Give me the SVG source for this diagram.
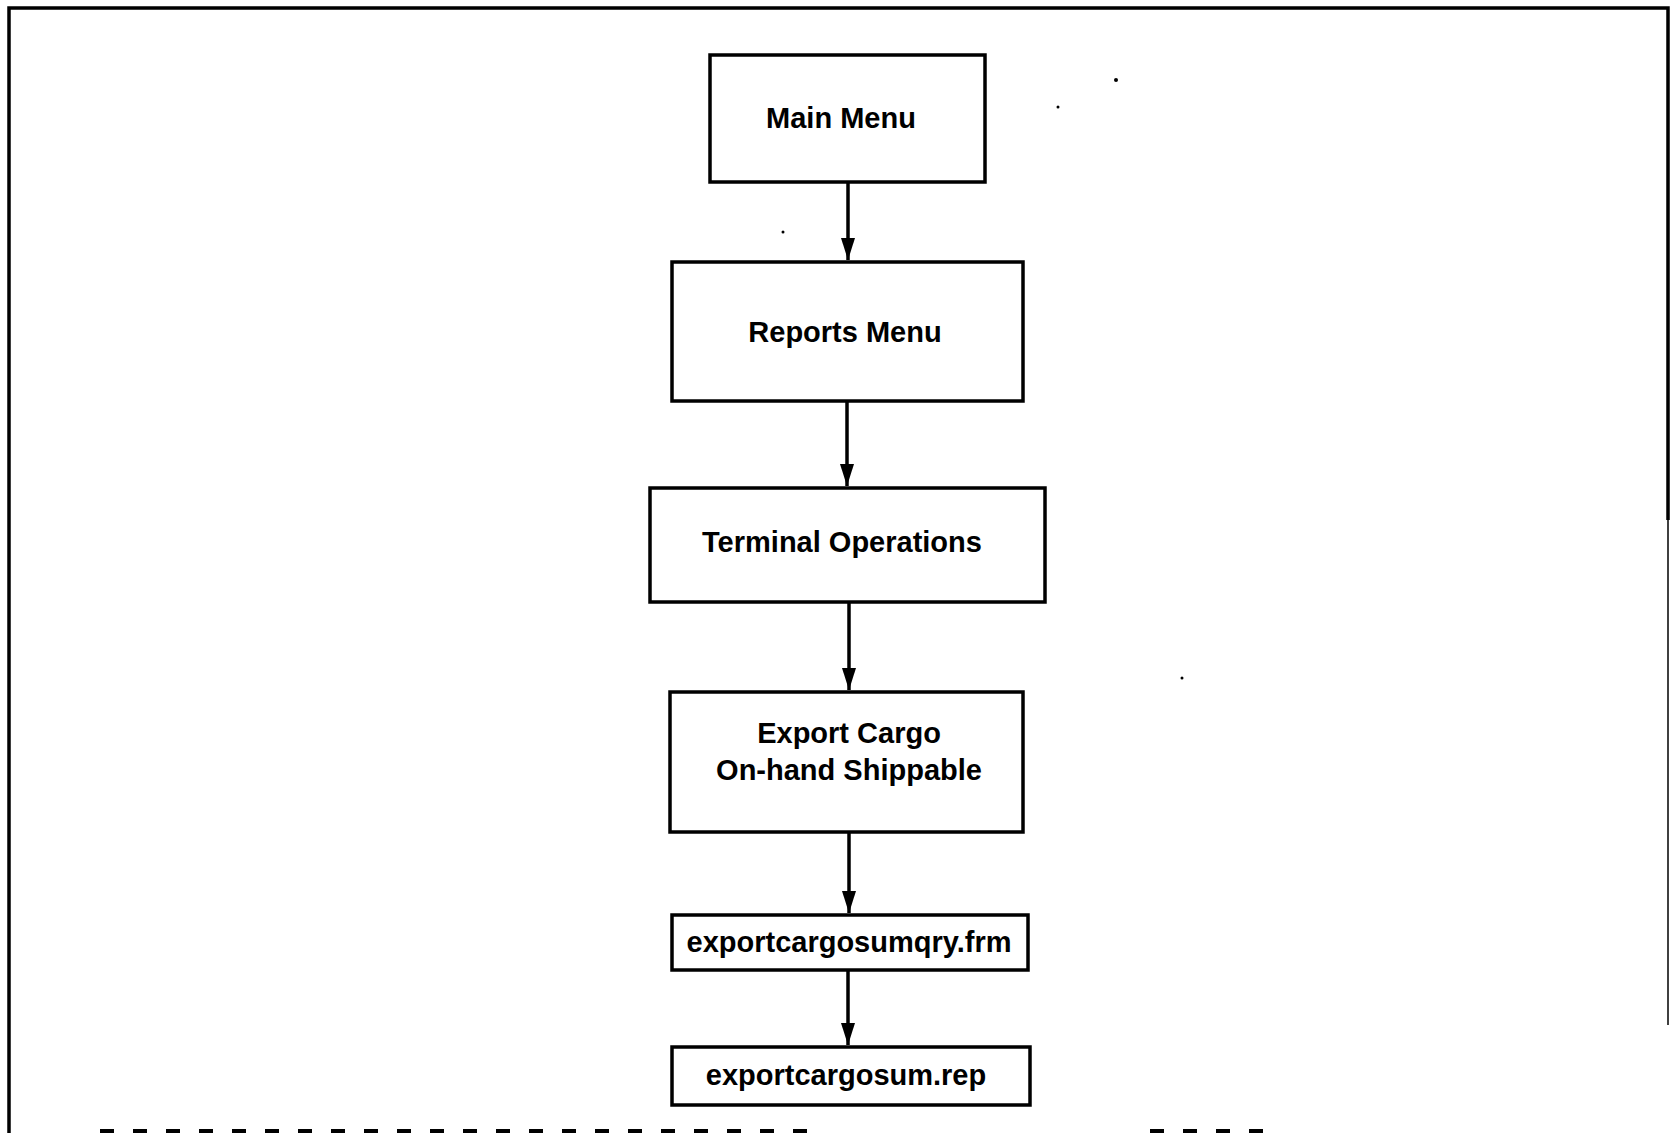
<svg xmlns="http://www.w3.org/2000/svg" width="1670" height="1133" viewBox="0 0 1670 1133">
<style>
.box{fill:#fff;stroke:#000;stroke-width:3.5}
.lbl{font-family:"Liberation Sans",Arial,sans-serif;font-weight:bold;font-size:29px;fill:#000;text-anchor:middle}
.conn{stroke:#000;stroke-width:3.5;fill:none}
.frame{stroke:#000;fill:none}
</style>
<defs>
<marker id="arr" viewBox="0 0 22 14" refX="22" refY="7" markerWidth="22" markerHeight="14" markerUnits="userSpaceOnUse" orient="auto">
<path d="M0,0 L22,7 L0,14 z" fill="#000"/>
</marker>
</defs>
<rect width="1670" height="1133" fill="#fff"/>
<g id="frame">
<path class="frame" stroke-width="3.5" d="M9,1133 L9,8 L1668,8 L1668,520"/>
<path class="frame" stroke-width="1.5" stroke="#444" d="M1668,520 L1668,1025"/>
<path class="frame" stroke-width="4" stroke-dasharray="14 19" d="M100,1131 L815,1131"/>
<path class="frame" stroke-width="4" stroke-dasharray="14 19" d="M1150,1131 L1270,1131"/>
</g>
<g id="specks" fill="#000">
<circle cx="1116" cy="80" r="2"/>
<circle cx="1058" cy="107" r="1.5"/>
<circle cx="783" cy="232" r="1.5"/>
<circle cx="1182" cy="678" r="1.5"/>
</g>
<g id="connectors">
<line class="conn" x1="848" y1="182" x2="848" y2="260" marker-end="url(#arr)"/>
<line class="conn" x1="847" y1="401" x2="847" y2="486" marker-end="url(#arr)"/>
<line class="conn" x1="849" y1="602" x2="849" y2="690" marker-end="url(#arr)"/>
<line class="conn" x1="849" y1="832" x2="849" y2="913" marker-end="url(#arr)"/>
<line class="conn" x1="848" y1="970" x2="848" y2="1045" marker-end="url(#arr)"/>
</g>
<g id="main-menu">
<rect class="box" x="710" y="55" width="275" height="127"/>
<text class="lbl" x="841" y="128">Main Menu</text>
</g>
<g id="reports-menu">
<rect class="box" x="672" y="262" width="351" height="139"/>
<text class="lbl" x="845" y="342">Reports Menu</text>
</g>
<g id="terminal-operations">
<rect class="box" x="650" y="488" width="395" height="114"/>
<text class="lbl" x="842" y="552">Terminal Operations</text>
</g>
<g id="export-cargo">
<rect class="box" x="670" y="692" width="353" height="140"/>
<text class="lbl" x="849" y="743">Export Cargo</text>
<text class="lbl" x="849" y="780">On-hand Shippable</text>
</g>
<g id="exportcargosumqry">
<rect class="box" x="672" y="915" width="356" height="55"/>
<text class="lbl" x="849" y="952">exportcargosumqry.frm</text>
</g>
<g id="exportcargosum-rep">
<rect class="box" x="672" y="1047" width="358" height="58"/>
<text class="lbl" x="846" y="1085">exportcargosum.rep</text>
</g>
</svg>
